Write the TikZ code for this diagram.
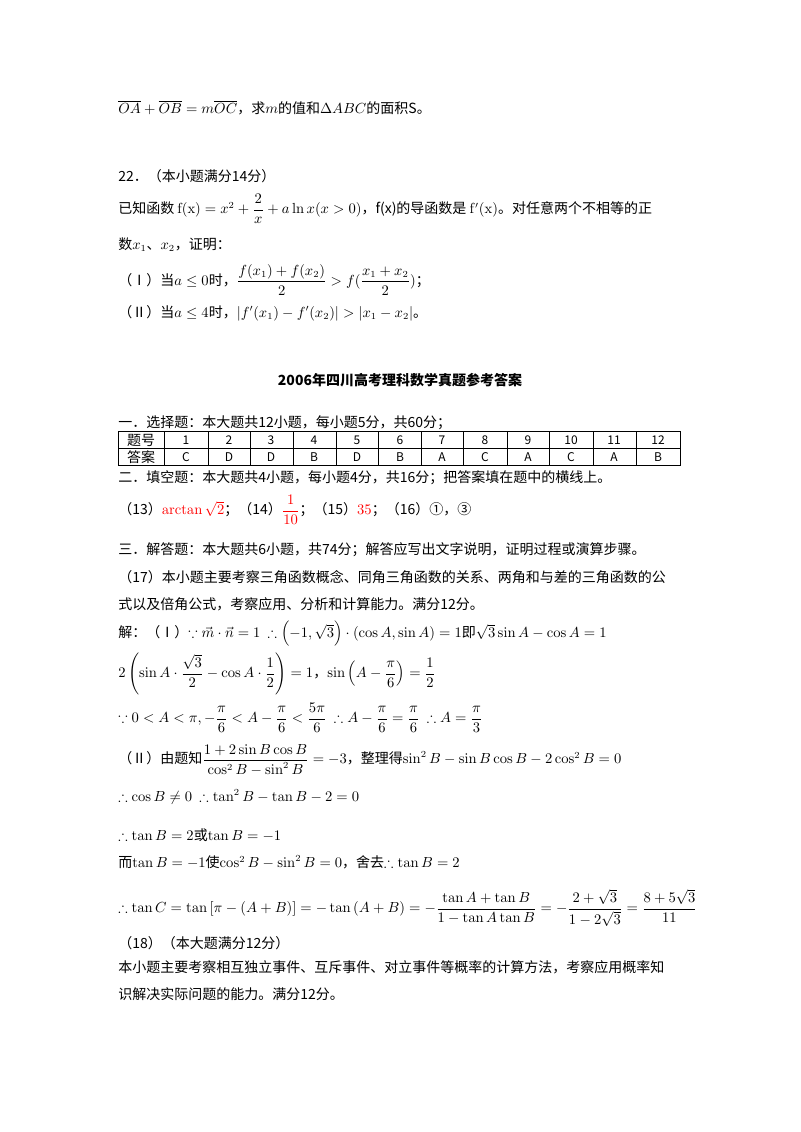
\documentclass[tikz,border=0pt]{standalone}
\usepackage{amsmath,amssymb}
\usepackage[no-math]{fontspec}
\setmainfont{Noto Sans CJK SC}
\usetikzlibrary{positioning}
\begin{document}
\begin{tikzpicture}[x=0.75pt,y=-0.75pt,
  t/.style={anchor=west,inner sep=0pt,font=\fontsize{10.5}{12}\selectfont}]
\useasboundingbox (0,0) rectangle (800,1132);
\fill[white] (0,0) rectangle (800,1132);
\node[t] (l1) at (118,108) {$\overline{OA}+\overline{OB}=m\overline{OC}$，求$m$的值和$\Delta ABC$的面积S。};
\node[t] (l2) at (118,176) {22．（本小题满分14分）};
\node[t] (l3) at (118,209) {已知函数 $\mathrm{f(x)}=x^2+\dfrac{2}{x}+a\ln x(x>0)$，f(x)的导函数是 $\mathrm{f'(x)}$。对任意两个不相等的正};
\node[t] (l4) at (118,245) {数$x_1$、$x_2$，证明：};
\node[t] (l5) at (118,280) {（Ⅰ）当$a\le 0$时，$\dfrac{f(x_1)+f(x_2)}{2}>f(\dfrac{x_1+x_2}{2})$；};
\node[t] (l6) at (118,313) {（Ⅱ）当$a\le 4$时，$\left|f'(x_1)-f'(x_2)\right|>\left|x_1-x_2\right|$。};
\node[t,anchor=center,font=\fontsize{10.5}{12}\selectfont\bfseries] (title) at (400,380) {2006年四川高考理科数学真题参考答案};
\node[t] (l7) at (118,423) {一．选择题：本大题共12小题，每小题5分，共60分；};
\draw[thin] (118,431) rectangle (680,465);
\draw[thin] (118,448) -- (680,448);
\foreach \xx in {164,208,250,293,336,378,421,463,507,549,593,636} \draw[thin] (\xx,431) -- (\xx,465);
\node[t,anchor=center] (h0) at (141,440) {题号};
\node[t,anchor=center] (a0) at (141,457) {答案};
\foreach \xx/\n/\a [count=\i] in {186/1/C,229/2/D,271/3/D,314/4/B,357/5/D,400/6/B,442/7/A,485/8/C,528/9/A,571/10/C,614/11/A,658/12/B}{
  \node[t,anchor=center,font=\fontsize{9}{10}\selectfont] (hn\i) at (\xx,440) {\n};
  \node[t,anchor=center,font=\fontsize{9}{10}\selectfont] (an\i) at (\xx,457) {\a};}
\node[t] (l8) at (118,478) {二．填空题：本大题共4小题，每小题4分，共16分；把答案填在题中的横线上。};
\node[t] (l9) at (118,510) {（13）\textcolor{red}{$\arctan\sqrt{2}$}；（14）\textcolor{red}{$\dfrac{1}{10}$}；（15）\textcolor{red}{$35$}；（16）①，③};
\node[t] (l10) at (118,550) {三．解答题：本大题共6小题，共74分；解答应写出文字说明，证明过程或演算步骤。};
\node[t] (l11) at (118,577) {（17）本小题主要考察三角函数概念、同角三角函数的关系、两角和与差的三角函数的公};
\node[t] (l12) at (118,604) {式以及倍角公式，考察应用、分析和计算能力。满分12分。};
\node[t] (l13) at (118,634) {解：（Ⅰ）$\because \vec m\cdot\vec n=1\ \therefore\left(-1,\sqrt3\right)\cdot\left(\cos A,\sin A\right)=1$即$\sqrt3\sin A-\cos A=1$};
\node[t] (l14) at (118,674) {$2\left(\sin A\cdot\dfrac{\sqrt3}{2}-\cos A\cdot\dfrac12\right)=1$，$\sin\left(A-\dfrac{\pi}{6}\right)=\dfrac12$};
\node[t] (l15) at (118,718) {$\because 0<A<\pi,-\dfrac{\pi}{6}<A-\dfrac{\pi}{6}<\dfrac{5\pi}{6}\ \therefore A-\dfrac{\pi}{6}=\dfrac{\pi}{6}\ \therefore A=\dfrac{\pi}{3}$};
\node[t] (l16) at (118,760) {（Ⅱ）由题知$\dfrac{1+2\sin B\cos B}{\cos^2B-\sin^2B}=-3$，整理得$\sin^2B-\sin B\cos B-2\cos^2B=0$};
\node[t] (l17) at (118,797) {$\therefore\cos B\ne0\ \therefore\tan^2B-\tan B-2=0$};
\node[t] (l18) at (118,835) {$\therefore\tan B=2$或$\tan B=-1$};
\node[t] (l19) at (118,862) {而$\tan B=-1$使$\cos^2B-\sin^2B=0$，舍去$\therefore\tan B=2$};
\node[t] (l20) at (118,908) {$\therefore\tan C=\tan\left[\pi-\left(A+B\right)\right]=-\tan\left(A+B\right)=-\dfrac{\tan A+\tan B}{1-\tan A\tan B}=-\dfrac{2+\sqrt3}{1-2\sqrt3}=\dfrac{8+5\sqrt3}{11}$};
\node[t] (l21) at (118,943) {（18）（本大题满分12分）};
\node[t] (l22) at (118,967) {本小题主要考察相互独立事件、互斥事件、对立事件等概率的计算方法，考察应用概率知};
\node[t] (l23) at (118,994) {识解决实际问题的能力。满分12分。};
\end{tikzpicture}
\end{document}
